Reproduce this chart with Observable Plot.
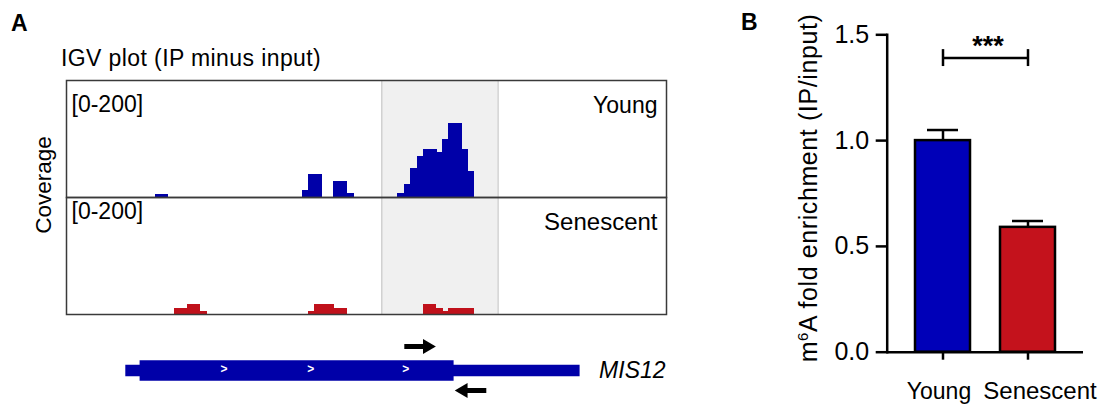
<!DOCTYPE html>
<html><head><meta charset="utf-8">
<script src="https://cdn.jsdelivr.net/npm/d3@7"></script>
<script src="https://cdn.jsdelivr.net/npm/@observablehq/plot@0.6"></script>
<style>
body{margin:0;background:#fff;}
#fig{position:relative;width:1100px;height:404px;overflow:hidden;font-family:"Liberation Sans",Arial,sans-serif;color:#000;background:#fff;}
.lbl{position:absolute;line-height:1;white-space:nowrap;}
.rot{transform:translate(-50%,-50%) rotate(-90deg);}
.pl{position:absolute;}
</style></head><body>
<div id="fig">
  <div class="lbl" style="left:11px;top:12px;font-size:23px;font-weight:bold;">A</div>
  <div class="lbl" style="left:741px;top:10.5px;font-size:23px;font-weight:bold;">B</div>
  <div class="lbl" style="left:61px;top:47px;font-size:23px;letter-spacing:0.4px;">IGV plot (IP minus input)</div>
  <div class="lbl rot" style="left:44px;top:185px;font-size:22.5px;">Coverage</div>
  <div class="lbl rot" style="left:808px;top:188px;font-size:25px;letter-spacing:0.6px;">m<sup style="font-size:0.6em;vertical-align:0.6em;line-height:0;">6</sup>A fold enrichment (IP/input)</div>
</div>
<script>
// ---------- Panel A: IGV coverage tracks (positions in relative genomic units) ----------
const tracks = ["Young", "Senescent"];
const trackRangeLabel = "[0-200]";
const trackRange = [0, 200];
const youngStart = [89.5, 236, 242.6, 267.3, 280.3, 331.3, 338.3, 344.3, 351, 357, 370, 376, 382.6, 395.3, 401.6];
const youngEnd   = [101.5, 242.6, 255, 280.3, 287, 338.3, 344.3, 351, 357, 370, 376, 382.6, 395.3, 401.6, 407.6];
const youngCov   = [5, 11, 38, 27, 6, 6, 21, 48, 70, 82, 76, 98, 125, 82, 44];
const senStart = [108.3, 121, 133.6, 242, 248.3, 267.6, 357, 369.3, 376, 382.6];
const senEnd   = [121, 133.6, 140, 248.3, 267.6, 280.3, 369.3, 376, 382.6, 407.6];
const senCov   = [10, 17, 5, 5, 17, 10, 17, 10, 5, 10];
const peakRegion = [315.3, 431.6];
const genomeSpan = [0, 600];

// gene model
const geneName = "MIS12";
const geneUTR = [59.3, 513.6];
const geneCDS = [73.6, 387.6];
const strandMarks = [157.6, 244.3, 339.3];
const fwdPrimer = [338.3, 369.3];
const revPrimer = [388.3, 420.3];
const lanes = ["fwd", "gene", "rev"];

// ---------- Panel B: bar chart ----------
const groups = ["Young", "Senescent"];
const means = [1.0, 0.59];
const sems = [0.05, 0.03];
const yTicks = [0, 0.5, 1.0, 1.5];
const sigLabel = "***";
const sigY = 1.39;
const sigTextY = 1.445;

const trackColors = ["#0000a8", "#c0111b"];
const barColors = ["#0000b8", "#c4121c"];

const fig = document.getElementById("fig");
const fontFamily = '"Liberation Sans", Arial, sans-serif';

const cov = [
  ...youngStart.map((s, i) => ({track: "Young", x1: s, x2: youngEnd[i], v: youngCov[i]})),
  ...senStart.map((s, i) => ({track: "Senescent", x1: s, x2: senEnd[i], v: senCov[i]}))
];

const trackPlot = Plot.plot({
  width: 700, height: 316,
  marginLeft: 66, marginRight: 34, marginTop: 80, marginBottom: 2,
  x: {domain: genomeSpan, axis: null},
  y: {domain: trackRange, axis: null},
  fy: {domain: tracks, axis: null, padding: 0},
  color: {domain: tracks, range: trackColors},
  style: {fontFamily, fontSize: "22px", color: "#000", background: "transparent", overflow: "visible"},
  marks: [
    Plot.rect([peakRegion], {x1: d => d[0], x2: d => d[1], y1: trackRange[0], y2: trackRange[1], fill: "#f0f0f0"}),
    Plot.ruleX(peakRegion, {stroke: "#c8c8c8", strokeWidth: 1.2}),
    Plot.rectY(cov, {x1: "x1", x2: "x2", y: "v", fy: "track", fill: "track", stroke: "track", strokeWidth: 1, shapeRendering: "crispEdges"}),
    Plot.frame({stroke: "#3a3a3a", strokeWidth: 1.5}),
    Plot.text([tracks[0]], {fy: d => d, text: () => trackRangeLabel, frameAnchor: "top-left", dx: 5, dy: 15, fontSize: 23}),
    Plot.text([tracks[1]], {fy: d => d, text: () => trackRangeLabel, frameAnchor: "top-left", dx: 5, dy: 5, fontSize: 23}),
    Plot.text([tracks[0]], {fy: d => d, text: d => d, frameAnchor: "top-right", dx: -9, dy: 16, fontSize: 23}),
    Plot.text([tracks[1]], {fy: d => d, text: d => d, frameAnchor: "top-right", dx: -9, dy: 15, fontSize: 24})
  ]
});
trackPlot.classList.add("pl");
trackPlot.style.left = "0px"; trackPlot.style.top = "0px";
fig.appendChild(trackPlot);

const genePlot = Plot.plot({
  width: 700, height: 74,
  marginLeft: 66, marginRight: 34, marginTop: 15, marginBottom: 14,
  x: {domain: genomeSpan, axis: null},
  y: {type: "point", domain: lanes, axis: null, padding: 0},
  style: {fontFamily, fontSize: "22px", color: "#000", background: "transparent", overflow: "visible"},
  marks: [
    Plot.ruleY([geneUTR], {x1: d => d[0], x2: d => d[1], y: () => "gene", stroke: trackColors[0], strokeWidth: 11.7, dy: 2}),
    Plot.ruleY([geneCDS], {x1: d => d[0], x2: d => d[1], y: () => "gene", stroke: trackColors[0], strokeWidth: 20.7, dy: 2}),
    Plot.text(strandMarks, {x: d => d, y: () => "gene", text: () => ">", fill: "white", fontSize: 12, fontWeight: "bold", dy: 1}),
    Plot.ruleY([fwdPrimer], {x1: d => d[0], x2: d => d[1], y: () => "fwd", stroke: "black", strokeWidth: 5, insetRight: 8}),
    Plot.dot([fwdPrimer], {x: d => d[1], y: () => "fwd", symbol: "triangle", r: 5.5, fill: "black", stroke: "none", rotate: 90, dx: -8.5}),
    Plot.ruleY([revPrimer], {x1: d => d[0], x2: d => d[1], y: () => "rev", stroke: "black", strokeWidth: 5, insetLeft: 8}),
    Plot.dot([revPrimer], {x: d => d[0], y: () => "rev", symbol: "triangle", r: 5.5, fill: "black", stroke: "none", rotate: -90, dx: 8.5}),
    Plot.text([geneName], {x: () => geneUTR[1], y: () => "gene", text: d => d, textAnchor: "start", dx: 19, dy: 2, fontStyle: "italic", fontSize: 23})
  ]
});
genePlot.classList.add("pl");
genePlot.style.left = "0px"; genePlot.style.top = "330px";
fig.appendChild(genePlot);

const barData = groups.map((g, i) => ({group: g, mean: means[i], upper: means[i] + sems[i]}));
const barPlot = Plot.plot({
  width: 370, height: 404,
  marginLeft: 156.7, marginRight: 17, marginTop: 34.3, marginBottom: 52.3,
  x: {domain: groups, paddingInner: 0.356, paddingOuter: 0.325, axis: null},
  y: {domain: [0, 1.5], axis: null},
  color: {domain: groups, range: barColors},
  style: {fontFamily, fontSize: "24px", color: "#000", background: "transparent", overflow: "visible"},
  marks: [
    Plot.ruleX(barData, {x: "group", y1: "mean", y2: "upper", stroke: "black", strokeWidth: 2.5}),
    Plot.tickY(barData, {x: "group", y: "upper", stroke: "black", strokeWidth: 2.5, insetLeft: 12, insetRight: 12}),
    Plot.barY(barData, {x: "group", y: "mean", fill: "group", stroke: "black", strokeWidth: 2.5}),
    Plot.axisY({ticks: yTicks, tickFormat: d3.format(".1f"), tickSize: 11, tickPadding: 7, strokeWidth: 2.5, fontSize: 25, label: null}),
    Plot.axisX({tickSize: 8, tickFormat: () => "", strokeWidth: 2.5, label: null}),
    Plot.text([groups[0]], {x: d => d, text: d => d, frameAnchor: "bottom", lineAnchor: "top", dy: 30, dx: -4, fontSize: 23}),
    Plot.text([groups[1]], {x: d => d, text: d => d, frameAnchor: "bottom", lineAnchor: "top", dy: 30, dx: 12, fontSize: 24}),
    Plot.frame({anchor: "left", stroke: "black", strokeWidth: 2.5}),
    Plot.ruleY([0], {stroke: "black", strokeWidth: 2.5}),
    Plot.link([sigY], {x1: () => groups[0], x2: () => groups[1], y1: d => d, y2: d => d, stroke: "black", strokeWidth: 2.5}),
    Plot.ruleX(groups, {x: d => d, y1: sigY - 0.04, y2: sigY + 0.04, stroke: "black", strokeWidth: 2.5}),
    Plot.text([sigLabel], {x: () => groups[0], y: () => sigTextY, text: d => d, dx: 45, fontSize: 27, fontWeight: "bold"})
  ]
});
barPlot.classList.add("pl");
barPlot.style.left = "730px"; barPlot.style.top = "0px";
fig.appendChild(barPlot);
</script>
</body></html>
